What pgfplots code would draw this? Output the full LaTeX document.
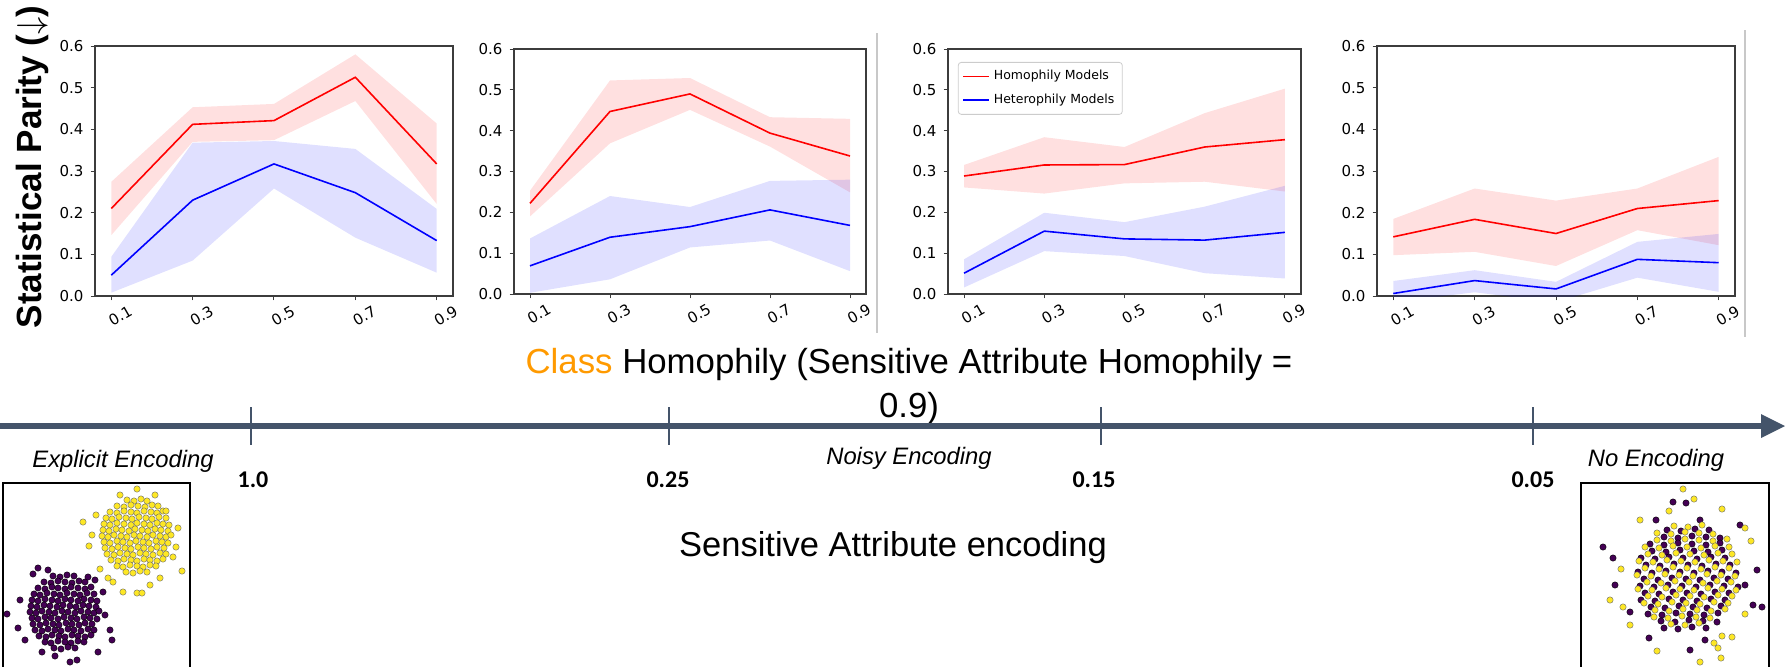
\documentclass[border=0pt]{standalone}
\usepackage{fontspec}
\setmainfont{Liberation Sans}
\newfontfamily\dejavu{DejaVu Sans}
\newfontfamily\carlito{Carlito}
\usepackage{pgfplots}
\usepackage{pgfplotstable}
\usepgfplotslibrary{fillbetween}
\pgfplotsset{compat=1.18}

\definecolor{arrowc}{HTML}{44546A}
\definecolor{classor}{HTML}{FF9A00}
\definecolor{vyel}{HTML}{FDE725}
\definecolor{vpur}{HTML}{440154}
\definecolor{spine}{HTML}{3C3C3C}
\definecolor{sepgray}{HTML}{C8C8C8}

% x: class homophily; rm/ru/rl: homophily models mean/upper/lower; bm/bu/bl: heterophily models
\pgfplotstableread{
x   rm    ru    rl    bm    bu    bl
0.1 0.210 0.274 0.146 0.050 0.094 0.008
0.3 0.412 0.453 0.370 0.230 0.368 0.085
0.5 0.421 0.461 0.374 0.317 0.372 0.258
0.7 0.525 0.580 0.468 0.248 0.353 0.140
0.9 0.317 0.414 0.221 0.133 0.209 0.056
}\dataA
\pgfplotstableread{
x   rm    ru    rl    bm    bu    bl
0.1 0.222 0.253 0.190 0.069 0.136 0.003
0.3 0.447 0.523 0.369 0.139 0.240 0.036
0.5 0.490 0.529 0.451 0.165 0.213 0.114
0.7 0.394 0.433 0.361 0.206 0.277 0.131
0.9 0.338 0.429 0.249 0.168 0.280 0.056
}\dataB
\pgfplotstableread{
x   rm    ru    rl    bm    bu    bl
0.1 0.289 0.316 0.261 0.051 0.085 0.016
0.3 0.316 0.384 0.246 0.154 0.199 0.105
0.5 0.317 0.360 0.271 0.135 0.176 0.093
0.7 0.360 0.443 0.275 0.132 0.214 0.051
0.9 0.378 0.503 0.251 0.151 0.265 0.038
}\dataC
\pgfplotstableread{
x   rm    ru    rl    bm    bu    bl
0.1 0.142 0.185 0.098 0.006 0.036 -0.015
0.3 0.184 0.258 0.106 0.037 0.062 0.009
0.5 0.150 0.229 0.072 0.017 0.034 -0.015
0.7 0.210 0.258 0.158 0.088 0.130 0.044
0.9 0.229 0.334 0.122 0.080 0.149 0.010
}\dataD

\pgfplotsset{
  panel/.style={
    scale only axis, anchor=south west,
    xmin=0.06, xmax=0.94, ymin=0, ymax=0.6,
    xtick={0.1,0.3,0.5,0.7,0.9}, ytick={0,0.1,0.2,0.3,0.4,0.5,0.6},
    tick align=outside, tick pos=left, major tick length=2.2pt,
    axis line style={spine, line width=0.6pt},
    tick style={spine, line width=0.5pt},
    /pgf/number format/assume math mode=true,
    /pgf/number format/fixed, /pgf/number format/fixed zerofill,
    /pgf/number format/precision=1,
    ticklabel style={font=\dejavu\fontsize{7.5}{9}\selectfont},
    xticklabel style={rotate=30, anchor=center, yshift=-9pt},
  },
  scat/.style={
    scale only axis, anchor=south west, ticks=none,
    axis line style={black, line width=0.8pt},
    ymin=483, ymax=670, y dir=reverse,
  },
  yel/.style={only marks, mark=*, mark size=1.6pt,
    mark options={fill=vyel, draw=black!60, line width=0.2pt}},
  pur/.style={only marks, mark=*, mark size=1.6pt,
    mark options={fill=vpur, draw=black, line width=0.2pt}},
}

\newcommand\panelplots[1]{%
  \addplot[name path=ru, draw=none, forget plot] table[x=x, y=ru] {#1};
  \addplot[name path=rl, draw=none, forget plot] table[x=x, y=rl] {#1};
  \addplot[red, fill opacity=0.12, forget plot] fill between[of=ru and rl];
  \addplot[name path=bu, draw=none, forget plot] table[x=x, y=bu] {#1};
  \addplot[name path=bl, draw=none, forget plot] table[x=x, y=bl] {#1};
  \addplot[blue, fill opacity=0.12, forget plot] fill between[of=bu and bl];
  \addplot[red, line width=0.8pt] table[x=x, y=rm] {#1};
  \addplot[blue, line width=0.8pt] table[x=x, y=bm] {#1};
}

\begin{document}
\begin{tikzpicture}
\begin{scope}[x=0.5pt, y=-0.5pt]
  % y label
  \node[rotate=90, anchor=base, font=\bfseries\fontsize{17.5}{21}\selectfont]
    at (41,167) {Statistical Parity ($\downarrow$)};
  % separators
  \draw[sepgray, line width=0.9pt] (877,33) -- (877,333);
  \draw[sepgray, line width=0.9pt] (1745,30) -- (1745,337);
  % title
  \node[anchor=base, font=\fontsize{17.4}{21}\selectfont] at (909,373)
    {{\color{classor}Class} Homophily (Sensitive Attribute Homophily =};
  \node[anchor=base, font=\fontsize{17.4}{21}\selectfont] at (909,417) {0.9)};
  % encoding arrow
  \draw[arrowc, line width=3.3pt] (0,426) -- (1764,426);
  \fill[arrowc] (1761,414) -- (1785,426) -- (1761,438) -- cycle;
  \foreach \t in {251,669,1101,1533}
    \draw[arrowc, line width=0.8pt] (\t,407) -- (\t,445);
  \foreach \t/\l in {253/1.0, 668/0.25, 1094/0.15, 1533/0.05}
    \node[anchor=base, font=\carlito\bfseries\fontsize{12}{14}\selectfont] at (\t,487) {\l};
  \node[anchor=base, font=\itshape\fontsize{11.9}{14}\selectfont] at (123,467) {Explicit Encoding};
  \node[anchor=base, font=\itshape\fontsize{11.9}{14}\selectfont] at (909,464) {Noisy Encoding};
  \node[anchor=base, font=\itshape\fontsize{11.9}{14}\selectfont] at (1656,466) {No Encoding};
  \node[anchor=base, font=\fontsize{17.25}{21}\selectfont] at (893,556) {Sensitive Attribute encoding};
\end{scope}

% ---- panel 1
\begin{axis}[panel, at={(47.5pt,-148pt)}, width=179pt, height=125pt]
  \panelplots{\dataA}
\end{axis}
% ---- panel 2
\begin{axis}[panel, at={(257pt,-147pt)}, width=176pt, height=122.5pt]
  \panelplots{\dataB}
\end{axis}
% ---- panel 3
\begin{axis}[panel, at={(474pt,-147pt)}, width=176.5pt, height=122.5pt,
  legend cell align=left,
  legend image code/.code={\draw[#1] (0pt,0pt) -- (13pt,0pt);},
  legend style={at={(0.028,0.947)}, anchor=north west,
    font=\dejavu\fontsize{6.25}{7.5}\selectfont,
    draw=black!20, rounded corners=1.5pt, inner xsep=2pt, inner ysep=2pt,
    row sep=1.5pt}]
  \panelplots{\dataC}
  \legend{Homophily Models, Heterophily Models}
\end{axis}
% ---- panel 4
\begin{axis}[panel, at={(688.5pt,-148pt)}, width=179pt, height=125pt]
  \panelplots{\dataD}
\end{axis}

% ---- explicit encoding scatter
\begin{axis}[scat, at={(1.5pt,-335pt)}, width=93.5pt, height=93.5pt, xmin=3, xmax=190]
\addplot[yel] coordinates {
(127,500)(134,501)(141,499)(147,501)
(117,506)(124,507)(131,505)(138,506)(145,507)(152,505)(158,506)
(110,512)(117,513)(124,511)(131,512)(137,513)(144,511)(151,512)(157,513)(163,511)
(106,518)(112,519)(119,517)(126,518)(132,519)(139,517)(146,518)(152,519)(159,517)(166,518)
(104,524)(110,525)(117,523)(124,524)(131,525)(137,523)(144,524)(150,525)(157,523)(163,524)(169,525)
(103,530)(109,531)(116,529)(122,530)(129,531)(135,529)(142,530)(148,531)(155,529)(161,530)(168,531)
(102,536)(108,537)(114,535)(121,536)(127,537)(134,535)(140,536)(147,537)(153,535)(160,536)(166,537)(171,535)
(104,542)(110,543)(117,541)(123,542)(130,543)(136,541)(143,542)(149,543)(156,541)(162,542)(168,543)
(105,548)(112,549)(118,547)(125,548)(131,549)(138,547)(144,548)(151,549)(157,547)(164,548)
(107,554)(114,555)(120,553)(127,554)(133,555)(140,553)(146,554)(153,555)(160,553)(166,554)
(111,560)(118,561)(124,559)(131,560)(137,561)(144,559)(150,560)(157,561)(163,559)
(117,566)(123,567)(130,565)(137,566)(143,567)(150,565)(156,566)
(126,572)(133,573)(140,571)(147,572)
(137,489)(83,522)(89,546)(182,571)(100,569)(123,592)(137,593)(142,593)(113,582)
(173,557)(176,547)(166,511)(96,515)(120,495)(155,495)(178,528)(92,535)(160,578)(108,578)(150,585)
};
\addplot[pur] coordinates {
(53,576)(60,577)(67,575)(74,576)
(44,582)(51,583)(58,581)(65,582)(72,583)(79,581)(85,582)
(38,588)(45,589)(52,587)(58,588)(65,589)(71,587)(78,588)(85,589)(91,587)
(34,594)(40,595)(47,593)(54,594)(60,595)(67,593)(74,594)(80,595)(87,593)(94,594)
(32,600)(38,601)(45,599)(52,600)(58,601)(65,599)(71,600)(78,601)(84,599)(91,600)(97,601)
(31,606)(37,607)(44,605)(50,606)(57,607)(63,605)(70,606)(76,607)(83,605)(89,606)(96,607)
(30,612)(36,613)(42,611)(49,612)(55,613)(62,611)(68,612)(75,613)(81,611)(88,612)(94,613)(99,611)
(32,618)(38,619)(45,617)(51,618)(58,619)(64,617)(71,618)(77,619)(84,617)(90,618)(97,619)
(33,624)(40,625)(46,623)(53,624)(59,625)(66,623)(72,624)(79,625)(85,623)(92,624)
(35,630)(42,631)(48,629)(55,630)(61,631)(68,629)(74,630)(81,631)(88,629)(94,630)
(39,636)(46,637)(52,635)(59,636)(65,637)(72,635)(78,636)(85,637)(91,635)
(45,642)(51,643)(58,641)(65,642)(71,643)(78,641)(84,642)
(54,648)(61,649)(68,647)(75,648)
(7,614)(20,600)(38,568)(33,574)(103,592)(110,630)(98,652)(77,660)(42,652)(55,656)
(88,577)(18,628)(105,615)(112,640)(25,640)(70,662)(48,570)(95,580)
};
\end{axis}

% ---- no encoding scatter
\begin{axis}[scat, at={(790.5pt,-335pt)}, width=94pt, height=93.5pt, xmin=1581, xmax=1769]
\addplot[pur] coordinates {
(1667,530)(1681,531)(1695,529)(1709,530)
(1664,537)(1678,538)(1692,536)(1706,537)(1720,538)
(1650,544)(1664,545)(1678,543)(1692,544)(1706,545)(1720,543)
(1652,551)(1666,552)(1680,550)(1694,551)(1708,552)(1722,550)
(1641,558)(1655,559)(1669,557)(1683,558)(1697,559)(1711,557)(1725,558)
(1646,565)(1660,566)(1674,564)(1688,565)(1702,566)(1716,564)(1730,565)
(1638,572)(1652,573)(1666,571)(1680,572)(1694,573)(1708,571)(1722,572)(1736,573)
(1644,579)(1658,580)(1672,578)(1686,579)(1700,580)(1714,578)(1728,579)
(1640,586)(1654,587)(1668,585)(1682,586)(1696,587)(1710,585)(1724,586)(1738,587)
(1645,593)(1659,594)(1673,592)(1687,593)(1701,594)(1715,592)(1729,593)
(1641,600)(1655,601)(1669,599)(1683,600)(1697,601)(1711,599)(1725,600)
(1651,607)(1665,608)(1679,606)(1693,607)(1707,608)(1721,606)
(1648,614)(1662,615)(1676,613)(1690,614)(1704,615)(1718,613)
(1661,621)(1675,622)(1689,620)(1703,621)(1717,622)
(1664,628)(1678,629)(1692,627)(1706,628)
(1673,502)(1686,503)(1603,547)(1613,558)(1757,570)(1753,605)(1762,607)(1649,638)
(1705,640)(1630,612)(1740,525)(1656,520)(1690,650)(1745,585)(1615,585)(1700,520)
};
\addplot[yel] coordinates {
(1674,526)(1688,527)(1702,525)
(1657,533)(1671,534)(1685,532)(1699,533)(1713,534)
(1657,540)(1671,541)(1685,539)(1699,540)(1713,541)(1727,539)
(1645,547)(1659,548)(1673,546)(1687,547)(1701,548)(1715,546)(1729,547)
(1648,554)(1662,555)(1676,553)(1690,554)(1704,555)(1718,553)(1732,554)
(1639,561)(1653,562)(1667,560)(1681,561)(1695,562)(1709,560)(1723,561)(1737,562)
(1645,568)(1659,569)(1673,567)(1687,568)(1701,569)(1715,567)(1729,568)
(1637,575)(1651,576)(1665,574)(1679,575)(1693,576)(1707,574)(1721,575)(1735,576)
(1647,582)(1661,583)(1675,581)(1689,582)(1703,583)(1717,581)(1731,582)
(1638,589)(1652,590)(1666,588)(1680,589)(1694,590)(1708,588)(1722,589)(1736,590)
(1648,596)(1662,597)(1676,595)(1690,596)(1704,597)(1718,595)(1732,596)
(1644,603)(1658,604)(1672,602)(1686,603)(1700,604)(1714,602)(1728,603)
(1655,610)(1669,611)(1683,609)(1697,610)(1711,611)(1725,609)
(1654,617)(1668,618)(1682,616)(1696,617)(1710,618)
(1671,624)(1685,625)(1699,623)
(1683,489)(1694,499)(1669,511)(1722,509)(1621,569)(1745,528)(1751,541)(1745,614)
(1623,607)(1657,651)(1722,636)(1732,637)(1718,648)(1721,658)(1714,643)(1610,600)
(1640,520)(1700,662)(1630,625)
};
\end{axis}
\pgfresetboundingbox
\useasboundingbox (0pt,0pt) rectangle (892.5pt,-333pt);
\end{tikzpicture}
\end{document}
